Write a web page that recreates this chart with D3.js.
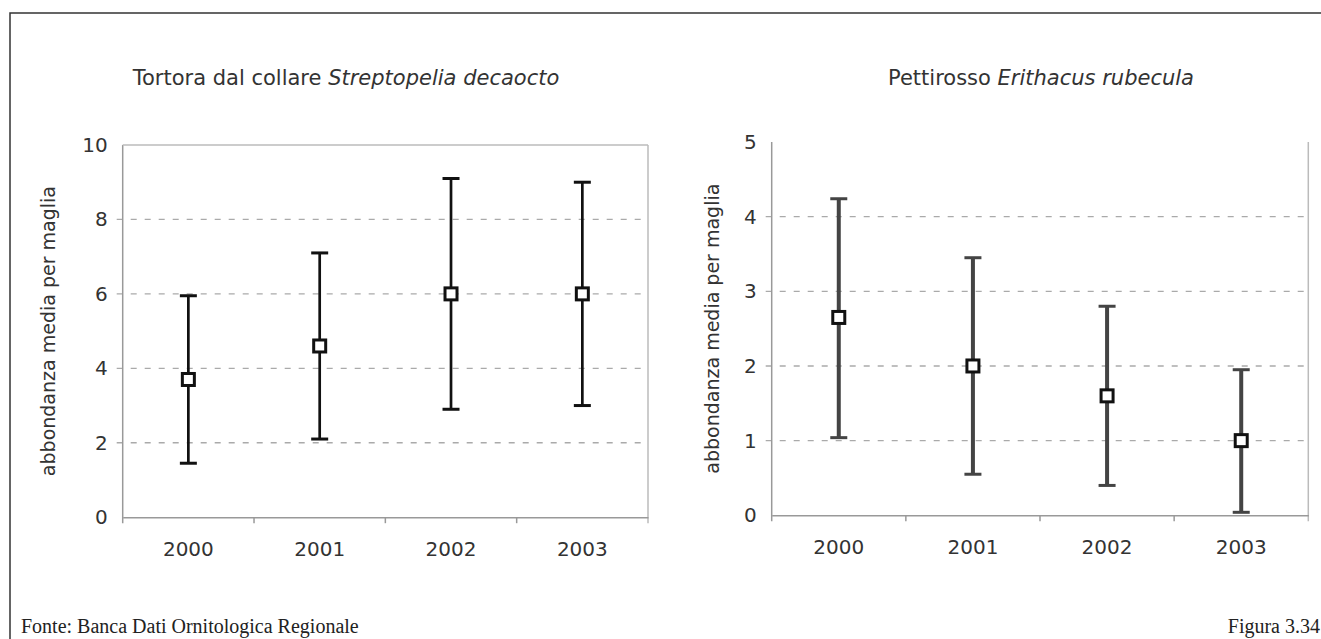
<!DOCTYPE html>
<html>
<head>
<meta charset="utf-8">
<script src="https://cdn.jsdelivr.net/npm/d3@7"></script>
<style>
  body { margin: 0; background: #fff; }
  text { font-family: "DejaVu Sans", Verdana, sans-serif; fill: #333; }
  .foot { font-family: "Liberation Serif", "DejaVu Serif", serif; fill: #222; }
</style>
</head>
<body>
<div id="chart"></div>
<script>
// Data
var years = ["2000", "2001", "2002", "2003"];

var tortoraMean = [3.7, 4.6, 6.0, 6.0];
var tortoraLow  = [1.45, 2.1, 2.9, 3.0];
var tortoraHigh = [5.95, 7.1, 9.1, 9.0];
var tortoraTicks = [0, 2, 4, 6, 8, 10];

var pettiMean = [2.65, 2.0, 1.6, 1.0];
var pettiLow  = [1.04, 0.55, 0.4, 0.04];
var pettiHigh = [4.24, 3.45, 2.8, 1.95];
var pettiTicks = [0, 1, 2, 3, 4, 5];

var svgWidth = 1321;
var svgHeight = 639;

var svg = d3.select("#chart").append("svg")
  .attr("width", svgWidth).attr("height", svgHeight);

// page frame (top and left edges)
svg.append("path")
  .attr("d", "M10,639 L10,13 L1321,13")
  .attr("fill", "none").attr("stroke", "#333").attr("stroke-width", 1.5);

function drawPanel(opt) {
  var x = d3.scaleBand().domain(years).range([opt.left, opt.right]);
  var y = d3.scaleLinear().domain([0, opt.max]).range([opt.bottom, opt.top]);
  var g = svg.append("g");

  // title
  var t = g.append("text")
    .attr("x", opt.titleX).attr("y", 85)
    .attr("text-anchor", "middle")
    .attr("font-size", "21px").attr("fill", "#222");
  t.append("tspan").text(opt.common + " ");
  t.append("tspan").attr("font-style", "italic").text(opt.latin);

  // dashed gridlines
  g.selectAll(".grid").data(opt.ticks.filter(d => d > 0 && d < opt.max))
    .enter().append("line")
    .attr("x1", opt.left - 6).attr("x2", opt.right)
    .attr("y1", d => y(d)).attr("y2", d => y(d))
    .attr("stroke", "#aaa").attr("stroke-width", 1.3)
    .attr("stroke-dasharray", "6,8");

  // plot borders
  g.append("line").attr("x1", opt.left).attr("x2", opt.left)
    .attr("y1", y(opt.max)).attr("y2", y(0) + 6)
    .attr("stroke", "#999").attr("stroke-width", 1.5);
  g.append("line").attr("x1", opt.right).attr("x2", opt.right)
    .attr("y1", y(opt.max)).attr("y2", y(0) + 6)
    .attr("stroke", "#bbb").attr("stroke-width", 1.5);
  if (opt.topLine) {
    g.append("line").attr("x1", opt.left).attr("x2", opt.right)
      .attr("y1", y(opt.max)).attr("y2", y(opt.max))
      .attr("stroke", "#bbb").attr("stroke-width", 1.5);
  }

  // x axis
  var xAxis = g.append("g")
    .attr("transform", `translate(0, ${y(0)})`)
    .call(d3.axisBottom(x).tickSize(0).tickPadding(25));
  xAxis.select(".domain").attr("stroke", "#999").attr("stroke-width", 1.5);
  xAxis.selectAll("text").attr("font-size", "20px").attr("fill", "#2a2a2a")
    .style("font-family", "DejaVu Sans, sans-serif");
  g.selectAll(".xtick").data(years.slice(1))
    .enter().append("line")
    .attr("x1", d => x(d)).attr("x2", d => x(d))
    .attr("y1", y(0)).attr("y2", y(0) + 6)
    .attr("stroke", "#999").attr("stroke-width", 1.5);

  // y axis labels
  var yAxis = g.append("g")
    .attr("transform", `translate(${opt.left}, 0)`)
    .call(d3.axisLeft(y).tickValues(opt.ticks).tickSize(0).tickPadding(15)
      .tickFormat(d3.format("d")));
  yAxis.select(".domain").remove();
  yAxis.selectAll("text").attr("font-size", "20px").attr("fill", "#2a2a2a")
    .style("font-family", "DejaVu Sans, sans-serif");

  // y title
  g.append("text")
    .attr("transform", `translate(${opt.ylabX}, ${(y(0) + y(opt.max)) / 2}) rotate(-90)`)
    .attr("text-anchor", "middle").attr("font-size", "19px").attr("fill", "#2a2a2a")
    .text("abbondanza media per maglia");

  // error bars
  var bars = g.selectAll(".bar").data(years).enter().append("g");
  var cx = d => x(d) + x.bandwidth() / 2;
  bars.append("line")
    .attr("x1", cx).attr("x2", cx)
    .attr("y1", (d, i) => y(opt.low[i])).attr("y2", (d, i) => y(opt.high[i]))
    .attr("stroke", opt.barColor).attr("stroke-width", opt.barWidth);
  [opt.low, opt.high].forEach(function(arr) {
    bars.append("line")
      .attr("x1", d => cx(d) - 8.5).attr("x2", d => cx(d) + 8.5)
      .attr("y1", (d, i) => y(arr[i])).attr("y2", (d, i) => y(arr[i]))
      .attr("stroke", opt.barColor).attr("stroke-width", 3);
  });
  bars.append("rect")
    .attr("x", d => cx(d) - 6).attr("y", (d, i) => y(opt.mean[i]) - 6)
    .attr("width", 12).attr("height", 12)
    .attr("fill", "#fff").attr("stroke", "#111").attr("stroke-width", 3);
}

drawPanel({
  left: 122.7, right: 648, top: 145, bottom: 517.2, max: 10,
  ticks: tortoraTicks, mean: tortoraMean, low: tortoraLow, high: tortoraHigh,
  common: "Tortora dal collare", latin: "Streptopelia decaocto",
  titleX: 346, ylabX: 55, topLine: true, barColor: "#111", barWidth: 2.7
});

drawPanel({
  left: 771.7, right: 1308.3, top: 142, bottom: 515.3, max: 5,
  ticks: pettiTicks, mean: pettiMean, low: pettiLow, high: pettiHigh,
  common: "Pettirosso", latin: "Erithacus rubecula",
  titleX: 1041, ylabX: 719, topLine: false, barColor: "#444", barWidth: 4
});

// footer
svg.append("text").attr("class", "foot")
  .attr("x", 21).attr("y", 633).attr("font-size", "20px")
  .text("Fonte: Banca Dati Ornitologica Regionale");
svg.append("text").attr("class", "foot")
  .attr("x", 1320).attr("y", 633).attr("font-size", "20px")
  .attr("text-anchor", "end")
  .text("Figura 3.34");
</script>
</body>
</html>
